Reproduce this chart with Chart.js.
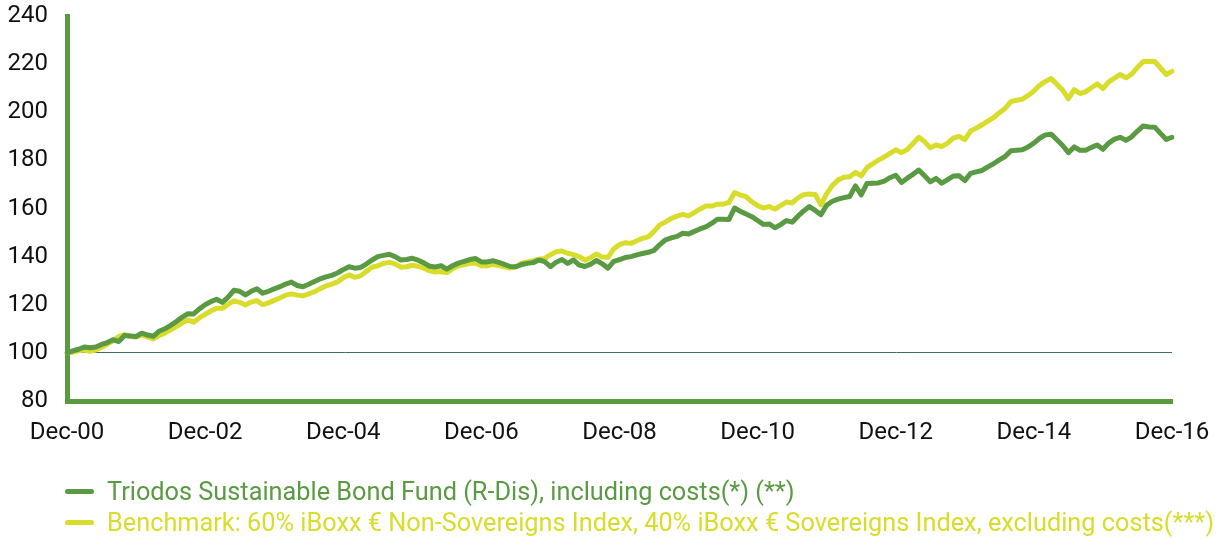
<!DOCTYPE html>
<html><head><meta charset="utf-8">
<script src="https://cdn.jsdelivr.net/npm/chart.js@4.4.1/dist/chart.umd.min.js"></script>
<style>
html,body{margin:0;padding:0;background:#fff;}
#wrap{position:relative;width:1230px;height:539px;overflow:hidden;}
#c{position:absolute;left:0;top:0;}
#legend{position:absolute;left:65px;top:476px;font-family:Roboto,sans-serif;font-size:25.3px;}
.item{display:flex;align-items:center;height:31px;white-space:nowrap;}
.swatch{width:29px;height:5px;border-radius:3px;margin-right:13px;flex:none;}
</style></head><body>
<div id="wrap"><canvas id="c" width="1230" height="539"></canvas><div id="legend"></div></div>
<script>
const monthNames = ['Jan','Feb','Mar','Apr','May','Jun','Jul','Aug','Sep','Oct','Nov','Dec'];
const categories = [];
for (let i = 0; i < 193; i++) {
  const k = 11 + i;
  categories.push(monthNames[k % 12] + '-' + String((2000 + Math.floor(k / 12)) % 100).padStart(2, '0'));
}
const tickLabels = ['Dec-00','Dec-02','Dec-04','Dec-06','Dec-08','Dec-10','Dec-12','Dec-14','Dec-16'];
const yTicks = [80,100,120,140,160,180,200,220,240];
const seriesNames = [
  'Triodos Sustainable Bond Fund (R-Dis), including costs(*) (**)',
  'Benchmark: 60% iBoxx € Non-Sovereigns Index, 40% iBoxx € Sovereigns Index, excluding costs(***)'
];
const fundValues = [
  100.0,100.8,101.5,102.4,102.1,102.4,103.5,104.3,105.5,104.7,107.2,107.0,
  106.8,108.2,107.4,106.9,109.0,110.0,111.4,113.0,114.8,116.3,116.2,118.3,
  120.0,121.3,122.3,121.0,123.2,126.0,125.6,124.1,125.6,126.6,124.8,125.6,
  126.6,127.5,128.6,129.4,128.0,127.5,128.5,129.7,130.8,131.6,132.2,133.2,
  134.6,135.8,135.2,135.5,136.9,138.6,140.0,140.5,141.0,140.0,138.6,138.8,
  139.3,138.5,137.4,136.0,135.7,136.2,134.8,136.2,137.3,138.0,138.8,139.2,
  137.8,137.8,138.3,137.6,136.8,135.9,135.8,136.7,137.2,137.5,138.6,137.9,
  135.8,137.7,138.8,137.2,138.6,136.5,135.9,136.9,138.4,137.0,135.2,138.0,
  138.8,139.6,140.0,140.7,141.3,141.8,142.6,145.0,147.0,147.8,148.4,149.7,
  149.4,150.5,151.5,152.4,153.8,155.5,155.5,155.4,160.2,158.8,157.7,156.6,
  155.0,153.4,153.6,152.0,153.3,155.0,154.3,156.8,159.0,160.8,159.2,157.4,
  161.4,163.0,163.9,164.5,165.0,169.4,165.7,170.4,170.5,170.6,171.4,172.8,
  173.8,170.8,172.6,174.2,176.0,173.6,171.1,172.5,170.5,172.0,173.5,173.6,
  171.6,174.6,175.2,175.8,177.3,178.6,180.2,181.6,184.0,184.2,184.4,185.6,
  187.2,189.2,190.6,190.9,188.6,186.2,183.2,185.6,184.2,184.2,185.4,186.4,
  184.6,187.2,188.8,189.6,188.3,189.8,192.2,194.3,193.9,193.8,191.2,188.7,
  189.6
];
const benchmarkValues = [
  100.0,100.3,100.9,101.2,100.6,101.2,102.3,103.6,105.0,106.8,107.6,106.8,
  106.6,107.5,106.6,105.8,107.3,108.2,109.6,110.9,112.4,113.7,112.7,114.5,
  116.0,117.4,118.5,118.5,120.2,121.6,121.0,119.9,121.1,121.7,120.0,120.8,
  121.8,122.8,124.0,124.5,124.0,123.7,124.5,125.4,126.7,127.8,128.6,129.5,
  131.2,132.4,131.4,132.0,133.8,135.6,136.2,137.2,137.6,137.0,135.6,135.8,
  136.4,136.0,135.2,134.1,133.6,133.8,133.3,135.0,136.2,136.6,137.2,137.3,
  136.2,136.2,136.8,136.3,135.8,135.3,135.8,137.3,137.8,138.3,138.9,139.2,
  140.8,142.0,142.3,141.4,140.8,140.0,138.5,139.6,141.1,139.8,139.7,143.2,
  145.0,145.8,145.5,146.6,147.6,148.2,150.5,153.2,154.4,155.9,156.8,157.6,
  156.9,158.3,159.8,161.0,161.0,161.8,161.8,162.5,166.6,165.6,164.9,162.8,
  161.2,160.2,160.8,159.8,161.2,162.7,162.3,164.4,165.7,166.0,165.8,161.5,
  166.2,169.6,171.9,173.0,173.2,175.0,173.6,177.0,178.6,180.1,181.4,182.9,
  184.4,183.2,184.5,187.0,189.6,187.8,185.2,186.4,185.7,187.2,189.2,190.0,
  188.6,192.2,193.4,194.8,196.3,197.8,199.8,201.6,204.4,205.0,205.4,207.0,
  208.8,211.2,212.8,214.0,211.6,209.2,205.6,209.4,207.8,208.5,210.2,211.8,
  209.8,212.6,214.2,215.7,214.3,215.8,218.6,221.1,221.2,221.1,218.4,215.7,
  217.0
];

const fundColor = '#5a9a43';
const benchColor = '#d8dd2b';
const axisColor = '#5a9a43';
const baseLineColor = '#3f6e6c';
const tickFont = {family: 'Roboto', size: 24};

const chart = new Chart(document.getElementById('c'), {
  type: 'line',
  data: {
    labels: categories,
    datasets: [
      {label: seriesNames[0], data: fundValues, borderColor: fundColor, borderWidth: 5,
       pointRadius: 0, tension: 0, borderJoinStyle: 'round', borderCapStyle: 'round', fill: false},
      {label: seriesNames[1], data: benchmarkValues, borderColor: benchColor, borderWidth: 5,
       pointRadius: 0, tension: 0, borderJoinStyle: 'round', borderCapStyle: 'round', fill: false}
    ]
  },
  options: {
    responsive: false,
    animation: false,
    layout: {padding: {left: 0, right: 58, top: 16, bottom: 0}},
    plugins: {legend: {display: false}, tooltip: {enabled: false}},
    scales: {
      x: {
        type: 'category',
        offset: false,
        grid: {display: false, drawTicks: false},
        border: {display: true, color: axisColor, width: 5},
        ticks: {
          autoSkip: false, maxRotation: 0, minRotation: 0, padding: 18,
          color: '#111', font: tickFont,
          callback: (v, i) => tickLabels.includes(categories[i]) ? categories[i] : null
        },
        afterFit: s => { s.height = 138; s.paddingLeft = 0; s.paddingRight = 0; }
      },
      y: {
        min: yTicks[0], max: yTicks[yTicks.length - 1],
        afterBuildTicks: s => { s.ticks = yTicks.map(v => ({value: v})); },
        ticks: {padding: 19, color: '#111', font: tickFont},
        grid: {
          drawTicks: false, lineWidth: 1,
          color: c => (c.tick && c.tick.value === 100) ? baseLineColor : 'rgba(0,0,0,0)'
        },
        border: {display: true, color: axisColor, width: 5},
        afterFit: s => { s.width = 67; s.paddingTop = 0; s.paddingBottom = 0; }
      }
    }
  }
});

const legendEl = document.getElementById('legend');
chart.data.datasets.forEach(ds => {
  const row = document.createElement('div');
  row.className = 'item';
  const sw = document.createElement('span');
  sw.className = 'swatch';
  sw.style.background = ds.borderColor;
  const tx = document.createElement('span');
  tx.textContent = ds.label;
  tx.style.color = ds.borderColor;
  row.appendChild(sw); row.appendChild(tx);
  legendEl.appendChild(row);
});
</script>
</body></html>
